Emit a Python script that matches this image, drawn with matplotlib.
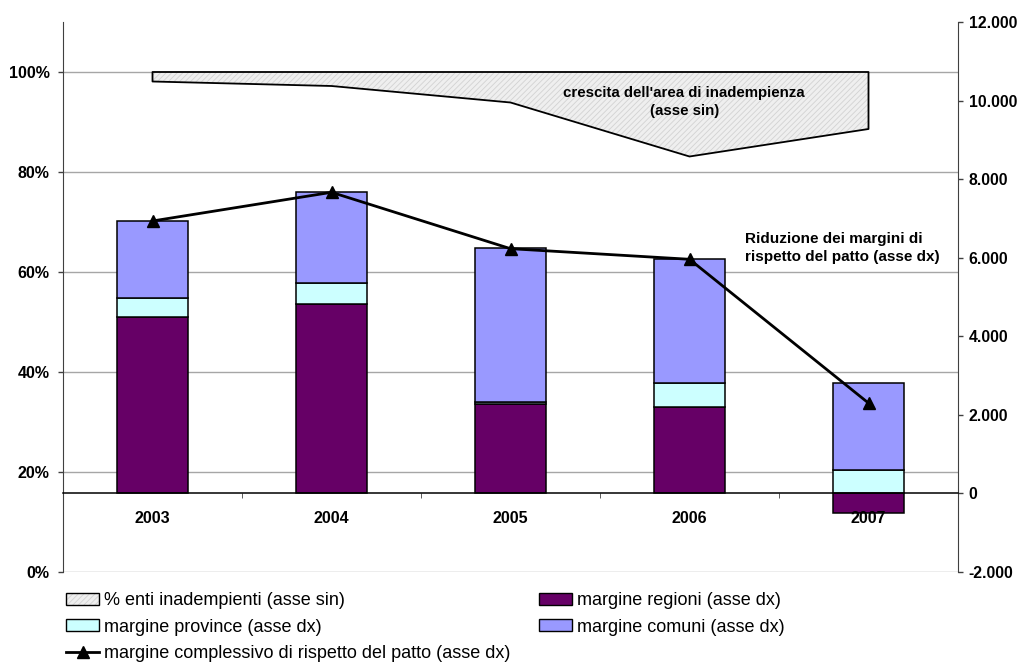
import numpy as np
import matplotlib
matplotlib.use("Agg")
import matplotlib.pyplot as plt
from matplotlib.patches import Patch
from matplotlib.lines import Line2D
from matplotlib.legend_handler import HandlerTuple

plt.rcParams['font.family'] = ['Liberation Sans', 'DejaVu Sans']
plt.rcParams['hatch.linewidth'] = 0.6

# --- data ---
years = ['2003', '2004', '2005', '2006', '2007']
pct_inadempienti = [1.9, 2.8, 6.1, 16.9, 11.4]          # % enti inadempienti (asse sin)
margine_regioni = [4490, 4820, 2280, 2200, -500]         # asse dx
margine_province = [476, 527, 40, 610, 596]              # asse dx
margine_comuni = [1975, 2332, 3930, 3155, 2214]          # asse dx
margine_complessivo = [6935, 7665, 6230, 5960, 2300]     # asse dx

left_ticks = [0, 20, 40, 60, 80, 100]
right_ticks = [-2000, 0, 2000, 4000, 6000, 8000, 10000, 12000]

col_reg = '#660066'
col_prov = '#CCFFFF'
col_com = '#9999FF'
col_area = '#EFEFEF'

W, H = 1022, 662
fig = plt.figure(figsize=(W / 100, H / 100), dpi=100)
ax = fig.add_axes([63 / W, 1 - 572 / H, (958 - 63) / W, (572 - 22) / H])
ax2 = ax.twinx()

x = np.arange(len(years))
ax.set_xlim(-0.5, len(years) - 0.5)
ax.set_ylim(0, 110)
ax2.set_ylim(-2000, 12000)

# --- left axis: share of non-compliant bodies, drawn down from 100% ---
lower = 100 - np.array(pct_inadempienti)
ax.fill_between(x, lower, 100, facecolor=col_area, edgecolor='#d2d2d2',
                hatch='//////', linewidth=0, zorder=2)
ax.fill_between(x, lower, 100, facecolor='none', edgecolor='black',
                linewidth=1.3, zorder=3)

ax.set_yticks(left_ticks, [f'{t}%' for t in left_ticks],
              fontsize=11.5, fontweight='bold')
ax.grid(axis='y', color='#a6a6a6', linewidth=1.0)
ax.set_axisbelow(True)
ax.tick_params(axis='y', direction='out', length=3.6, width=1,
               color='#404040', pad=6)
for s in ['top', 'right', 'bottom']:
    ax.spines[s].set_visible(False)
ax.spines['left'].set_color('#404040')
ax.tick_params(axis='x', which='both', bottom=False, top=False,
               labelbottom=False)

# --- right axis: stacked margins and overall margin ---
bw = 0.4
reg = np.array(margine_regioni, dtype=float)
prov = np.array(margine_province, dtype=float)
com = np.array(margine_comuni, dtype=float)
pos_base = np.where(reg > 0, reg, 0)
ax2.bar(x, reg, bw, color=col_reg, edgecolor='black', linewidth=1.1, zorder=1)
ax2.bar(x, prov, bw, bottom=pos_base, color=col_prov, edgecolor='black',
        linewidth=1.1, zorder=1)
ax2.bar(x, com, bw, bottom=pos_base + prov, color=col_com, edgecolor='black',
        linewidth=1.1, zorder=1)
ax2.plot(x, margine_complessivo, color='black', linewidth=2.0, marker='^',
         markersize=9, zorder=4)

ax2.set_yticks(right_ticks,
               [f'{t:,}'.replace(',', '.') for t in right_ticks],
               fontsize=11.3, fontweight='bold')
ax2.tick_params(axis='y', direction='out', length=3.6, width=1,
                color='#404040', pad=4)
for s in ['top', 'left']:
    ax2.spines[s].set_visible(False)
ax2.spines['right'].set_color('#404040')

# category axis sits on the zero line of the right scale
ax2.xaxis.set_visible(True)
ax2.spines['bottom'].set_position(('data', 0))
ax2.spines['bottom'].set_color('black')
ax2.spines['bottom'].set_linewidth(1.1)
ax2.set_xticks(x, years, fontsize=11.5, fontweight='bold')
ax2.set_xticks(np.arange(len(years) + 1) - 0.5, minor=True)
ax2.tick_params(axis='x', which='major', length=0, pad=13)
ax2.tick_params(axis='x', which='minor', direction='out', length=3.6,
                color='#404040')

# annotations
ax.text(2.97, 94, "crescita dell'area di inadempienza\n(asse sin)",
        ha='center', va='center', fontsize=10.8, fontweight='bold',
        linespacing=1.45, zorder=5)
ax2.text(3.31, 6250, 'Riduzione dei margini di\nrispetto del patto (asse dx)',
         ha='left', va='center', fontsize=11, fontweight='bold',
         linespacing=1.3, zorder=5)

# legend
h_area = (Patch(facecolor=col_area, edgecolor='#d2d2d2', hatch='//////',
                linewidth=0),
          Patch(facecolor='none', edgecolor='black', linewidth=1.0))
h_prov = Patch(facecolor=col_prov, edgecolor='black', linewidth=1.0)
h_reg = Patch(facecolor=col_reg, edgecolor='black', linewidth=1.0)
h_com = Patch(facecolor=col_com, edgecolor='black', linewidth=1.0)
h_line = Line2D([], [], color='black', linewidth=2.0, marker='^',
                markersize=9)
leg_kw = dict(loc='upper left', frameon=False, fontsize=13, borderpad=0,
              borderaxespad=0, handlelength=1.85, handleheight=0.65,
              handletextpad=0.25, labelspacing=0.54,
              handler_map={tuple: HandlerTuple(ndivide=1)})
fig.legend([h_area, h_prov, h_line],
           ['% enti inadempienti (asse sin)', 'margine province (asse dx)',
            'margine complessivo di rispetto del patto (asse dx)'],
           bbox_to_anchor=(66 / W, 1 - 592 / H), **leg_kw)
fig.legend([h_reg, h_com],
           ['margine regioni (asse dx)', 'margine comuni (asse dx)'],
           bbox_to_anchor=(539 / W, 1 - 592 / H), **leg_kw)

fig.savefig('out.png', dpi=100)
